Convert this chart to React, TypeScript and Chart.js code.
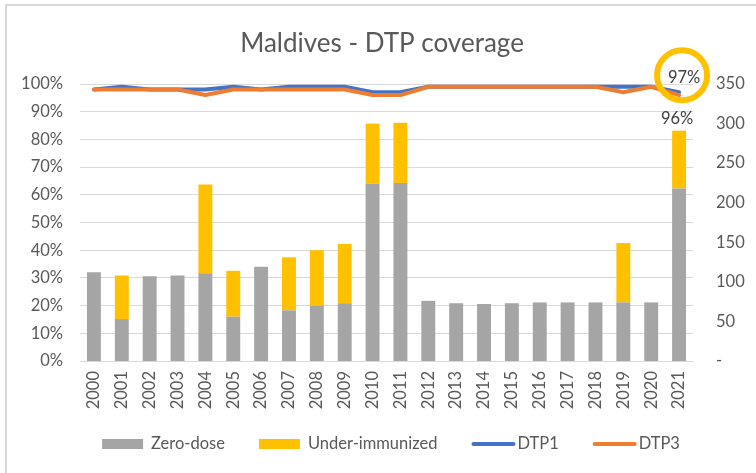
import React, { useEffect, useRef } from "react";
import { Chart, registerables } from "chart.js";

Chart.register(...registerables);

const years = ["2000","2001","2002","2003","2004","2005","2006","2007","2008","2009","2010","2011","2012","2013","2014","2015","2016","2017","2018","2019","2020","2021"];
const zeroDose = [112, 53, 107, 108, 111, 56, 119, 64, 70, 73, 224, 225, 76, 73, 72, 73, 74, 74, 74, 74, 74, 218];
const underImmunized = [0, 55, 0, 0, 112, 58, 0, 67, 70, 75, 76, 76, 0, 0, 0, 0, 0, 0, 0, 75, 0, 73];
const dtp1 = [98, 99, 98, 98, 98, 99, 98, 99, 99, 99, 97, 97, 99, 99, 99, 99, 99, 99, 99, 99, 99, 97];
const dtp3 = [98, 98, 98, 98, 96, 98, 98, 98, 98, 98, 96, 96, 99, 99, 99, 99, 99, 99, 99, 97, 99, 96];
const titleText = "Maldives - DTP coverage";
const dtp1LastLabel = "97%";
const dtp3LastLabel = "96%";

const FONT = "Lato";
const TXT = "#595959";
const GRAY = "#A5A5A5";
const YELLOW = "#FFC000";
const BLUE = "#4472C4";
const ORANGE = "#ED7D31";

const overlayPlugin = {
  id: "overlay",
  afterDatasetsDraw(chart: any) {
    const ctx = chart.ctx;
    const x = chart.scales.x;
    const y = chart.scales.y;
    const y1 = chart.scales.y1;
    const last = years.length - 1;
    ctx.save();
    // title
    ctx.fillStyle = TXT;
    ctx.font = `26px ${FONT}`;
    ctx.textAlign = "center";
    ctx.textBaseline = "alphabetic";
    ctx.fillText(titleText, 382, 52);
    // data labels
    ctx.font = `16.5px ${FONT}`;
    ctx.fillStyle = "#404040";
    ctx.textBaseline = "middle";
    const px = x.getPixelForValue(last);
    const l1x = px + 5;
    const l1y = y.getPixelForValue(dtp1[last]) - 15;
    ctx.fillText(dtp1LastLabel, l1x, l1y);
    const barTop = y1.getPixelForValue(zeroDose[last] + underImmunized[last]);
    ctx.fillText(dtp3LastLabel, px - 2, barTop - 12);
    // highlight circle
    ctx.beginPath();
    ctx.strokeStyle = YELLOW;
    ctx.lineWidth = 6;
    ctx.arc(l1x - 2, l1y - 2, 25, 0, Math.PI * 2);
    ctx.stroke();
    // legend
    const items = [
      { label: "Zero-dose", color: GRAY, line: false },
      { label: "Under-immunized", color: YELLOW, line: false },
      { label: "DTP1", color: BLUE, line: true },
      { label: "DTP3", color: ORANGE, line: true },
    ];
    ctx.font = `16.5px ${FONT}`;
    const widths = items.map((it) => (it.line ? 44 + 2 : 41 + 8) + ctx.measureText(it.label).width);
    const gap = 34;
    const total = widths.reduce((a, b) => a + b, 0) + gap * (items.length - 1);
    let cx = 391 - total / 2;
    const ly = 444;
    ctx.textAlign = "left";
    ctx.fillStyle = TXT;
    items.forEach((it, i) => {
      if (it.line) {
        ctx.beginPath();
        ctx.strokeStyle = it.color;
        ctx.lineWidth = 4;
        ctx.lineCap = "round";
        ctx.moveTo(cx + 2, ly);
        ctx.lineTo(cx + 42, ly);
        ctx.stroke();
        ctx.fillStyle = TXT;
        ctx.fillText(it.label, cx + 46, ly);
      } else {
        ctx.fillStyle = it.color;
        ctx.fillRect(cx, ly - 5, 41, 10);
        ctx.fillStyle = TXT;
        ctx.fillText(it.label, cx + 49, ly);
      }
      cx += widths[i] + gap;
    });
    ctx.restore();
  },
};

export default function App() {
  const ref = useRef<HTMLCanvasElement | null>(null);
  useEffect(() => {
    if (!ref.current) return;
    const chart = new Chart(ref.current, {
      type: "bar",
      data: {
        labels: years,
        datasets: [
          { type: "line", label: "DTP3", data: dtp3, yAxisID: "y", borderColor: ORANGE, backgroundColor: ORANGE, borderWidth: 4, pointRadius: 0, tension: 0, order: 0, clip: false, borderCapStyle: "round", borderJoinStyle: "round" } as any,
          { type: "line", label: "DTP1", data: dtp1, yAxisID: "y", borderColor: BLUE, backgroundColor: BLUE, borderWidth: 4, pointRadius: 0, tension: 0, order: 1, clip: false, borderCapStyle: "round", borderJoinStyle: "round" } as any,
          { type: "bar", label: "Zero-dose", data: zeroDose, yAxisID: "y1", backgroundColor: GRAY, stack: "s", order: 2, barPercentage: 0.5, categoryPercentage: 1 },
          { type: "bar", label: "Under-immunized", data: underImmunized, yAxisID: "y1", backgroundColor: YELLOW, stack: "s", order: 3, barPercentage: 0.5, categoryPercentage: 1 },
        ],
      },
      options: {
        responsive: false,
        animation: false,
        layout: { padding: { top: 84, bottom: 0, left: 0, right: 0 } },
        plugins: { legend: { display: false }, title: { display: false }, tooltip: { enabled: false } },
        scales: {
          x: {
            stacked: true,
            grid: { display: false, drawTicks: false },
            border: { display: true, color: "#D9D9D9", width: 1 },
            ticks: { color: TXT, font: { family: FONT, size: 16.5 }, maxRotation: 90, minRotation: 90, padding: 10, autoSkip: false },
            afterFit: (s: any) => { s.height = 112; },
          },
          y: {
            position: "left",
            min: 0,
            max: 100,
            grid: { color: "#D9D9D9", lineWidth: 1, drawTicks: false },
            border: { display: false },
            ticks: { stepSize: 10, color: TXT, font: { family: FONT, size: 16.5 }, padding: 17, callback: (v: any) => v + "%" },
            afterFit: (s: any) => { s.width = 80; },
          },
          y1: {
            position: "right",
            stacked: true,
            min: 0,
            max: 350,
            grid: { display: false, drawTicks: false },
            border: { display: false },
            ticks: { stepSize: 50, color: TXT, font: { family: FONT, size: 16.5 }, padding: 23, callback: (v: any) => (v === 0 ? "-" : String(v)) },
            afterFit: (s: any) => { s.width = 63; },
          },
        },
      },
      plugins: [overlayPlugin],
    });
    return () => chart.destroy();
  }, []);
  return (
    <div style={{ position: "fixed", left: 0, top: 0, width: 756, height: 473, overflow: "hidden", background: "#fff" }}>
      <div style={{ position: "absolute", left: 5, top: 4, width: 800, height: 520, border: "2px solid #D9D9D9", boxSizing: "border-box" }} />
      <canvas ref={ref} width={756} height={473} style={{ position: "absolute", left: 0, top: 0, display: "block" }} />
    </div>
  );
}
